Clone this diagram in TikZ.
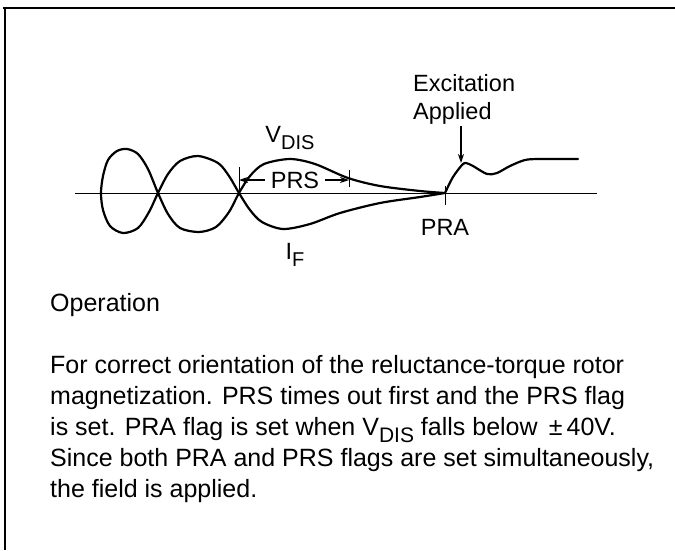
\documentclass[tikz,border=0pt]{standalone}
\usepackage{fontspec}
\setmainfont{Liberation Sans}
\usetikzlibrary{arrows.meta}
\newcommand{\lowsub}[2]{\raisebox{-0.3em}{\fontsize{#1}{#1}\selectfont #2}}

\begin{document}
\begin{tikzpicture}[x=1pt,y=-1pt,>={Stealth[length=9pt,width=6pt]},
  wave/.style={line width=2.2pt,line join=round,line cap=round},
  tickmark/.style={line width=1pt},
  lbl/.style={font=\fontsize{23.5}{28}\selectfont,inner sep=0pt},
  body/.style={font=\fontsize{25}{31}\selectfont,inner sep=0pt,align=left}]
\useasboundingbox (0,0) rectangle (675,550);
\draw[line width=2.5pt] (3,8) -- (675,8);
\draw[line width=2pt] (5,8) -- (5,550);
\coordinate (axL) at (75,193);
\coordinate (axR) at (597,193);
\draw[line width=0.8pt] (axL) -- (axR);
\draw[wave] plot[smooth] coordinates {
  (445,193) (420,197) (380,203) (340,213) (310,224) (283,229) (262,222)
  (250,210) (239,193) (229,176) (218,163) (198,156) (180,161) (168,174)
  (158,193) (149,212) (138,228) (123,233) (110,226) (103,210) (101,193)
  (103,176) (108,160) (117,151) (127,149) (138,154) (148,169) (158,193)
  (168,214) (180,228) (199,232) (216,227) (229,212) (239,193) (250,176)
  (264,164) (290,159) (315,164) (348,178) (380,186) (420,191) (445,193)};
\draw[wave] plot[smooth] coordinates {
  (445,193) (453,177) (462,165) (466,163) (473,166) (487,174) (497,173)
  (510,166) (525,160) (540,159) (578,159)};
\draw[line width=2pt] (101,187) -- (101,200);
\draw[tickmark] (445,186) -- (445,205);
\draw[tickmark] (239,167) -- (239,190);
\draw[tickmark] (349,170) -- (349,187);
\node[lbl] (vdis) at (290,138) {V\lowsub{20}{DIS}};
\node[lbl] (iF) at (295,255) {I\lowsub{20}{F}};
\node[lbl,inner xsep=6pt] (prs) at (295,180) {PRS};
\coordinate (prsA) at (239,180);
\coordinate (prsB) at (349,180);
\draw[->,line width=1.2pt] (prs.west) -- (prsA);
\draw[->,line width=1.2pt] (prs.east) -- (prsB);
\node[lbl,anchor=base] (pra) at (445,235) {PRA};
\node[lbl,align=left,anchor=north west,inner ysep=2pt] (exc) at (413,72) {Excitation\\Applied};
\coordinate (kick) at (461,163);
\draw[->,line width=1.5pt] (exc.south -| kick) -- (kick);
\node[body,anchor=base west] (op) at (50,311) {Operation};
\node[body,anchor=north west] (desc) at (50,355) {For correct orientation of the reluctance-torque rotor\\
magnetization. PRS times out first and the PRS flag\\
is set. PRA flag is set when V\lowsub{21}{DIS} falls below \,±\,40V.\\
Since both PRA and PRS flags are set simultaneously,\\
the field is applied.};
\end{tikzpicture}
\end{document}
